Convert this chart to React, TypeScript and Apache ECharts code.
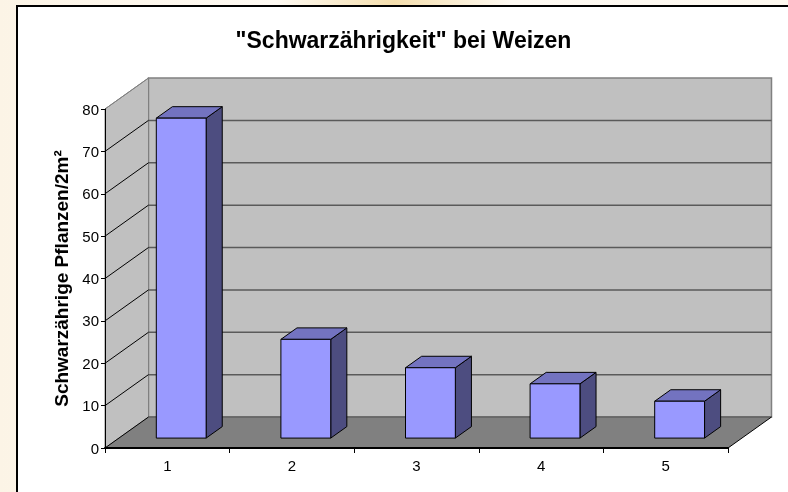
import React, { useEffect, useRef } from "react";
import * as echarts from "echarts";

const categories = ["1", "2", "3", "4", "5"];
const values = [75.5, 23.3, 16.6, 12.8, 8.7];
const yTicks = [0, 10, 20, 30, 40, 50, 60, 70, 80];

const titleText = '"Schwarzährigkeit" bei Weizen';
const yName = "Schwarzährige Pflanzen/2m²";

const FONT = "'Liberation Sans', Arial, sans-serif";
const DX = 43.5;
const DY = -31;
const FRONT = 0.32;
const DEPTH = 0.37;
const BAR_W = 0.4;

export default function App() {
  const ref = useRef<HTMLDivElement>(null);
  useEffect(() => {
    if (!ref.current) return;
    const chart = echarts.init(ref.current, null, { renderer: "svg" });

    const wallsRender = (params: any, api: any) => {
      const cs = params.coordSys;
      const x0 = cs.x;
      const x1 = cs.x + cs.width;
      const yTop = api.coord([0, yTicks[yTicks.length - 1]])[1];
      const yBot = api.coord([0, yTicks[0]])[1];
      const children: any[] = [];
      children.push({
        type: "rect",
        shape: { x: x0 + DX, y: yTop + DY, width: x1 - x0, height: yBot - yTop },
        style: { fill: "#c0c0c0", stroke: "#808080", lineWidth: 1.5 },
      });
      children.push({
        type: "polygon",
        shape: {
          points: [
            [x0, yBot],
            [x0 + DX, yBot + DY],
            [x0 + DX, yTop + DY],
            [x0, yTop],
          ],
        },
        style: { fill: "#c0c0c0", stroke: "#808080", lineWidth: 1 },
      });
      yTicks.forEach((v, i) => {
        const y = api.coord([0, v])[1];
        if (i > 0 && i < yTicks.length - 1) {
          children.push({
            type: "line",
            shape: { x1: x0 + DX, y1: y + DY, x2: x1 + DX, y2: y + DY },
            style: { stroke: "#5a5a5a", lineWidth: 1.5 },
          });
        }
        if (i > 0) {
          children.push({
            type: "line",
            shape: { x1: x0, y1: y, x2: x0 + DX, y2: y + DY },
            style: { stroke: i === yTicks.length - 1 ? "#808080" : "#000", lineWidth: 1 },
          });
        }
      });
      children.push({
        type: "polygon",
        shape: {
          points: [
            [x0, yBot],
            [x1, yBot],
            [x1 + DX, yBot + DY],
            [x0 + DX, yBot + DY],
          ],
        },
        style: { fill: "#808080" },
      });
      children.push({
        type: "line",
        shape: { x1: x0 + DX, y1: yBot + DY, x2: x1 + DX, y2: yBot + DY },
        style: { stroke: "#606060", lineWidth: 1.5 },
      });
      children.push({
        type: "line",
        shape: { x1: x0, y1: yBot, x2: x0 + DX, y2: yBot + DY },
        style: { stroke: "#000", lineWidth: 1 },
      });
      children.push({
        type: "line",
        shape: { x1: x1, y1: yBot, x2: x1 + DX, y2: yBot + DY },
        style: { stroke: "#000", lineWidth: 1 },
      });
      return { type: "group", children };
    };

    const barRender = (params: any, api: any) => {
      const idx = api.value(0);
      const val = api.value(1);
      const catW = api.size([1, 0])[0];
      const base = api.coord([idx, 0]);
      const top = api.coord([idx, val]);
      const hw = (catW * BAR_W) / 2;
      const fx = FRONT * DX;
      const fy = FRONT * DY;
      const dx = DEPTH * DX;
      const dy = DEPTH * DY;
      const xl = base[0] - hw + fx;
      const xr = base[0] + hw + fx;
      const yb = base[1] + fy;
      const yt = top[1] + fy;
      const st = { stroke: "#000", lineWidth: 1, lineJoin: "round" };
      return {
        type: "group",
        children: [
          {
            type: "polygon",
            shape: { points: [[xr, yt], [xr + dx, yt + dy], [xr + dx, yb + dy], [xr, yb]] },
            style: { fill: "#4d4d80", ...st },
          },
          {
            type: "polygon",
            shape: { points: [[xl, yt], [xr, yt], [xr + dx, yt + dy], [xl + dx, yt + dy]] },
            style: { fill: "#7373c0", ...st },
          },
          {
            type: "rect",
            shape: { x: xl, y: yt, width: xr - xl, height: yb - yt },
            style: { fill: "#9999ff", ...st },
          },
        ],
      };
    };

    chart.setOption({
      animation: false,
      graphic: [
        {
          type: "rect",
          z: -10,
          shape: { x: 0, y: 0, width: 788, height: 492 },
          style: {
            fill: {
              type: "linear",
              x: 0, y: 0, x2: 1, y2: 0,
              colorStops: [
                { offset: 0, color: "#fcf4e6" },
                { offset: 0.35, color: "#fefaf3" },
                { offset: 0.5, color: "#f5dfae" },
                { offset: 0.65, color: "#fefaf3" },
                { offset: 1, color: "#fdf8ef" },
              ],
            },
          },
        },
        {
          type: "rect",
          z: -9,
          shape: { x: 17, y: 6, width: 800, height: 520 },
          style: { fill: "#fff", stroke: "#000", lineWidth: 2 },
        },
        {
          type: "text",
          x: 403.5,
          y: 40,
          style: {
            text: titleText,
            fill: "#000",
            font: `bold 23px ${FONT}`,
            align: "center",
            verticalAlign: "middle",
          },
        },
      ],
      grid: { left: 105, right: 60, top: 109, bottom: 44 },
      xAxis: {
        type: "category",
        data: categories,
        z: 10,
        axisLine: { lineStyle: { color: "#000", width: 2 } },
        axisTick: { show: true, length: 5, lineStyle: { color: "#000" } },
        axisLabel: { color: "#000", fontSize: 15, fontFamily: FONT, margin: 10 },
        splitLine: { show: false },
      },
      yAxis: {
        type: "value",
        min: 0,
        max: 80,
        interval: 10,
        z: 10,
        name: yName,
        nameLocation: "middle",
        nameRotate: 90,
        nameGap: 34,
        nameTextStyle: { color: "#000", fontSize: 19, fontWeight: "bold", fontFamily: FONT },
        axisLine: { show: true, lineStyle: { color: "#000", width: 1 } },
        axisTick: { show: true, length: 4, lineStyle: { color: "#000" } },
        axisLabel: { color: "#000", fontSize: 15, fontFamily: FONT, margin: 6 },
        splitLine: { show: false },
      },
      series: [
        {
          type: "custom",
          z: 1,
          silent: true,
          clip: false,
          data: [[0, 0]],
          encode: { x: 0, y: 1 },
          renderItem: wallsRender,
        },
        {
          type: "custom",
          z: 3,
          clip: false,
          data: values.map((v, i) => [i, v]),
          encode: { x: 0, y: 1 },
          renderItem: barRender,
        },
      ],
    });
    return () => chart.dispose();
  }, []);
  return (
    <div
      ref={ref}
      style={{ position: "fixed", left: 0, top: 0, width: 788, height: 492 }}
    />
  );
}
